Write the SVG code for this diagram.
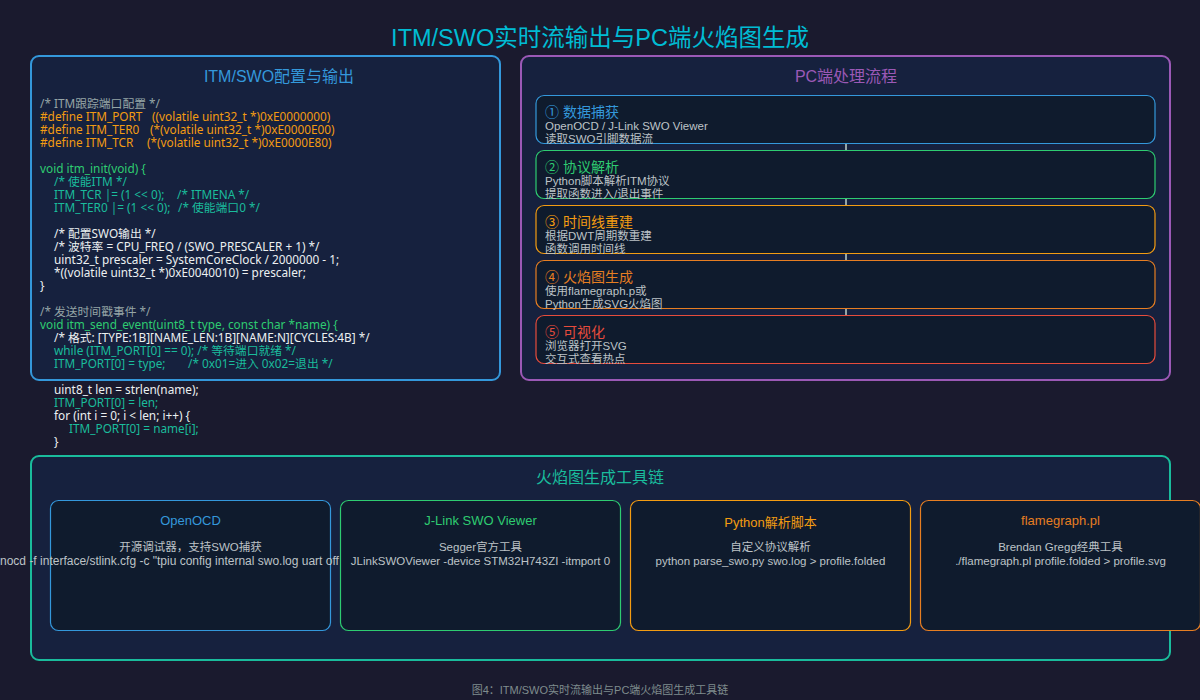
<svg xmlns="http://www.w3.org/2000/svg" width="1200" height="700" viewBox="0 0 1200 700">
  <style>
    text { font-family: "Liberation Sans", "Noto Sans CJK SC", sans-serif; }
    .title { font-size: 23.5px; fill: #00bcd4; text-anchor: middle; }
    .panel { fill: #16213e; stroke-width: 2; }
    .ptitle { font-size: 16px; text-anchor: middle; }
    .code text { font-family: "Noto Sans", "Noto Sans CJK SC", sans-serif; font-size: 11.8px; }
    .cm { fill: #95a5a6; }
    .df { fill: #f39c12; }
    .fn { fill: #2ecc71; }
    .tl { fill: #1abc9c; }
    .wh { fill: #ecf0f1; }
    .box { fill: #0f1b2d; stroke-width: 1.2; }
    .stitle { font-size: 14px; }
    .sdesc { font-size: 11.5px; fill: #bdc3c7; }
    .ttitle { font-size: 13px; text-anchor: middle; }
    .tdesc { font-size: 11.5px; fill: #bdc3c7; text-anchor: middle; }
    .link { stroke: #95a5a6; stroke-width: 2; }
    .caption { font-size: 11px; fill: #7f8c8d; text-anchor: middle; }
  </style>

  <rect width="1200" height="700" fill="#1a1a2e"/>
  <text class="title" x="600" y="46">ITM/SWO实时流输出与PC端火焰图生成</text>

  <!-- Firmware side: ITM/SWO setup code -->
  <g id="itm-config">
    <rect class="panel" x="31" y="56" width="469" height="324" rx="8" stroke="#3498db"/>
    <text class="ptitle" x="279" y="82" fill="#3498db">ITM/SWO配置与输出</text>
    <g class="code">
      <text class="cm" x="40" y="108">/* ITM跟踪端口配置 */</text>
      <text class="df" x="40" y="121">#define ITM_PORT<tspan x="152">((volatile uint32_t *)0xE0000000)</tspan></text>
      <text class="df" x="40" y="134">#define ITM_TER0<tspan x="150">(*(volatile uint32_t *)0xE0000E00)</tspan></text>
      <text class="df" x="40" y="147">#define ITM_TCR<tspan x="147">(*(volatile uint32_t *)0xE0000E80)</tspan></text>
      <text class="fn" x="40" y="173">void itm_init(void) {</text>
      <text class="tl" x="54" y="186">/* 使能ITM */</text>
      <text class="tl" x="54" y="199">ITM_TCR |= (1 &lt;&lt; 0);<tspan x="177">/* ITMENA */</tspan></text>
      <text class="tl" x="54" y="212">ITM_TER0 |= (1 &lt;&lt; 0);<tspan x="178">/* 使能端口0 */</tspan></text>
      <text class="wh" x="54" y="238">/* 配置SWO输出 */</text>
      <text class="wh" x="54" y="251">/* 波特率 = CPU_FREQ / (SWO_PRESCALER + 1) */</text>
      <text class="wh" x="54" y="264">uint32_t prescaler = SystemCoreClock / 2000000 - 1;</text>
      <text class="wh" x="54" y="277">*((volatile uint32_t *)0xE0040010) = prescaler;</text>
      <text class="wh" x="40" y="290">}</text>
      <text class="cm" x="40" y="316">/* 发送时间戳事件 */</text>
      <text class="fn" x="40" y="329">void itm_send_event(uint8_t type, const char *name) {</text>
      <text class="wh" x="54" y="342">/* 格式: [TYPE:1B][NAME_LEN:1B][NAME:N][CYCLES:4B] */</text>
      <text class="tl" x="54" y="355">while (ITM_PORT[0] == 0); /* 等待端口就绪 */</text>
      <text class="tl" x="54" y="368">ITM_PORT[0] = type;<tspan x="188">/* 0x01=进入 0x02=退出 */</tspan></text>
      <text class="wh" x="54" y="394">uint8_t len = strlen(name);</text>
      <text class="tl" x="54" y="407">ITM_PORT[0] = len;</text>
      <text class="wh" x="54" y="420">for (int i = 0; i &lt; len; i++) {</text>
      <text class="tl" x="69" y="433">ITM_PORT[0] = name[i];</text>
      <text class="wh" x="54" y="446">}</text>
    </g>
  </g>

  <!-- Host side: processing pipeline -->
  <g id="pc-flow">
    <rect class="panel" x="521" y="56" width="649" height="324" rx="8" stroke="#9b59b6"/>
    <text class="ptitle" x="846" y="82" fill="#9b59b6">PC端处理流程</text>
  </g>

  <g id="connectors">
    <line class="link" x1="846" y1="143.5" x2="846" y2="150.5"/>
    <line class="link" x1="846" y1="198.5" x2="846" y2="205.5"/>
    <line class="link" x1="846" y1="253.5" x2="846" y2="260.5"/>
    <line class="link" x1="846" y1="308.5" x2="846" y2="315.5"/>
  </g>

  <g id="step-capture">
    <rect class="box" x="536" y="95.5" width="619" height="48" rx="8" stroke="#3498db"/>
    <text class="stitle" x="545" y="116.5" fill="#3498db">① 数据捕获</text>
    <text class="sdesc" x="545" y="129.5">OpenOCD / J-Link SWO Viewer</text>
    <text class="sdesc" x="545" y="142.5">读取SWO引脚数据流</text>
  </g>
  <g id="step-parse">
    <rect class="box" x="536" y="150.5" width="619" height="48" rx="8" stroke="#2ecc71"/>
    <text class="stitle" x="545" y="171.5" fill="#2ecc71">② 协议解析</text>
    <text class="sdesc" x="545" y="184.5">Python脚本解析ITM协议</text>
    <text class="sdesc" x="545" y="197.5">提取函数进入/退出事件</text>
  </g>
  <g id="step-timeline">
    <rect class="box" x="536" y="205.5" width="619" height="48" rx="8" stroke="#f39c12"/>
    <text class="stitle" x="545" y="226.5" fill="#f39c12">③ 时间线重建</text>
    <text class="sdesc" x="545" y="239.5">根据DWT周期数重建</text>
    <text class="sdesc" x="545" y="252.5">函数调用时间线</text>
  </g>
  <g id="step-flamegraph">
    <rect class="box" x="536" y="260.5" width="619" height="48" rx="8" stroke="#e67e22"/>
    <text class="stitle" x="545" y="281.5" fill="#e67e22">④ 火焰图生成</text>
    <text class="sdesc" x="545" y="294.5">使用flamegraph.p或</text>
    <text class="sdesc" x="545" y="307.5">Python生成SVG火焰图</text>
  </g>
  <g id="step-view">
    <rect class="box" x="536" y="315.5" width="619" height="48" rx="8" stroke="#e74c3c"/>
    <text class="stitle" x="545" y="336.5" fill="#e74c3c">⑤ 可视化</text>
    <text class="sdesc" x="545" y="349.5">浏览器打开SVG</text>
    <text class="sdesc" x="545" y="362.5">交互式查看热点</text>
  </g>

  <!-- Toolchain -->
  <g id="toolchain">
    <rect class="panel" x="31" y="456" width="1139" height="204" rx="8" stroke="#1abc9c"/>
    <text class="ptitle" x="600" y="483" fill="#1abc9c">火焰图生成工具链</text>
  </g>
  <g id="tool-openocd">
    <rect class="box" x="50.5" y="500.5" width="280" height="130" rx="8" stroke="#3498db"/>
    <text class="ttitle" x="190.5" y="525" fill="#3498db">OpenOCD</text>
    <text class="tdesc" x="190.5" y="551">开源调试器，支持SWO捕获</text>
    <!-- long command line runs past the card; the next card covers its tail -->
    <text class="tdesc" x="-20" y="565" style="text-anchor:start;font-size:12px">openocd -f interface/stlink.cfg -c "tpiu config internal swo.log uart off</text>
  </g>
  <g id="tool-jlink">
    <rect class="box" x="340.5" y="500.5" width="280" height="130" rx="8" stroke="#2ecc71"/>
    <text class="ttitle" x="480.5" y="525" fill="#2ecc71">J-Link SWO Viewer</text>
    <text class="tdesc" x="480.5" y="551">Segger官方工具</text>
    <text class="tdesc" x="480.5" y="565">JLinkSWOViewer -device STM32H743ZI -itmport 0</text>
  </g>
  <g id="tool-python">
    <rect class="box" x="630.5" y="500.5" width="280" height="130" rx="8" stroke="#f39c12"/>
    <text class="ttitle" x="770.5" y="527" fill="#f39c12">Python解析脚本</text>
    <text class="tdesc" x="770.5" y="551">自定义协议解析</text>
    <text class="tdesc" x="770.5" y="565">python parse_swo.py swo.log &gt; profile.folded</text>
  </g>
  <g id="tool-flamegraph">
    <rect class="box" x="920.5" y="500.5" width="280" height="130" rx="8" stroke="#e67e22"/>
    <text class="ttitle" x="1060.5" y="525" fill="#e67e22">flamegraph.pl</text>
    <text class="tdesc" x="1060.5" y="551">Brendan Gregg经典工具</text>
    <text class="tdesc" x="1060.5" y="565">./flamegraph.pl profile.folded &gt; profile.svg</text>
  </g>

  <text class="caption" x="600" y="694">图4：ITM/SWO实时流输出与PC端火焰图生成工具链</text>
</svg>
